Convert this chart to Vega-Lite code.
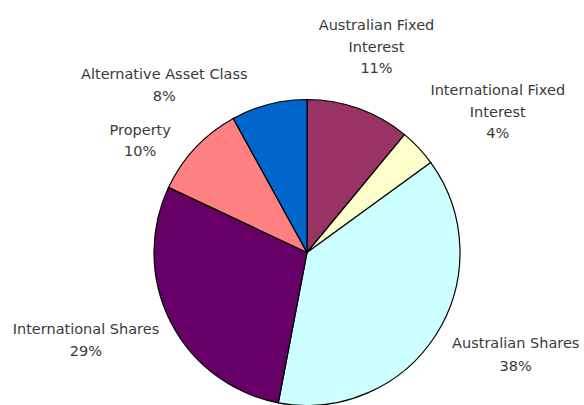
{
  "$schema": "https://vega.github.io/schema/vega-lite/v6.json",
  "width": 554,
  "height": 305,
  "padding": {"left": 30, "top": 100, "right": 0, "bottom": 0},
  "autosize": {"type": "none"},
  "background": "white",
  "config": {"view": {"stroke": null}},
  "data": {
    "values": [
      {"asset": "Australian Fixed Interest", "share": 11, "order": 1, "label": ["Australian Fixed", "Interest", "11%"]},
      {"asset": "International Fixed Interest", "share": 4, "order": 2, "label": ["International Fixed", "Interest", "4%"]},
      {"asset": "Australian Shares", "share": 38, "order": 3, "label": ["Australian Shares", "38%"]},
      {"asset": "International Shares", "share": 29, "order": 4, "label": ["International Shares", "29%"]},
      {"asset": "Property", "share": 10, "order": 5, "label": ["Property", "10%"]},
      {"asset": "Alternative Asset Class", "share": 8, "order": 6, "label": ["Alternative Asset Class", "8%"]}
    ]
  },
  "encoding": {
    "theta": {"field": "share", "type": "quantitative", "stack": true},
    "order": {"field": "order", "type": "quantitative"}
  },
  "layer": [
    {
      "mark": {"type": "arc", "outerRadius": 153, "stroke": "#000000", "strokeWidth": 1.2},
      "encoding": {
        "color": {
          "field": "asset",
          "type": "nominal",
          "scale": {
            "domain": ["Australian Fixed Interest", "International Fixed Interest", "Australian Shares", "International Shares", "Property", "Alternative Asset Class"],
            "range": ["#993366", "#FFFFCC", "#CCFFFF", "#660066", "#FF8080", "#0066CC"]
          },
          "legend": null
        }
      }
    },
    {
      "mark": {"type": "text", "radius": 217, "dx": -4, "dy": -22, "font": "DejaVu Sans", "fontSize": 14.5, "lineHeight": 21.5, "fill": "#3a3a3a", "align": "center", "baseline": "middle"},
      "encoding": {"text": {"condition": {"test": "datum.order == 1", "field": "label"}, "value": ""}}
    },
    {
      "mark": {"type": "text", "radius": 237, "dx": 18, "dy": 1, "font": "DejaVu Sans", "fontSize": 14.5, "lineHeight": 21.5, "fill": "#3a3a3a", "align": "center", "baseline": "middle"},
      "encoding": {"text": {"condition": {"test": "datum.order == 2", "field": "label"}, "value": ""}}
    },
    {
      "mark": {"type": "text", "radius": 233, "dx": 12, "dy": -33, "font": "DejaVu Sans", "fontSize": 14.5, "lineHeight": 23, "fill": "#3a3a3a", "align": "center", "baseline": "middle"},
      "encoding": {"text": {"condition": {"test": "datum.order == 3", "field": "label"}, "value": ""}}
    },
    {
      "mark": {"type": "text", "radius": 238, "dx": -9, "dy": -31, "font": "DejaVu Sans", "fontSize": 14.5, "lineHeight": 22, "fill": "#3a3a3a", "align": "center", "baseline": "middle"},
      "encoding": {"text": {"condition": {"test": "datum.order == 4", "field": "label"}, "value": ""}}
    },
    {
      "mark": {"type": "text", "radius": 200, "dx": -21, "dy": 15, "font": "DejaVu Sans", "fontSize": 14.5, "lineHeight": 21, "fill": "#3a3a3a", "align": "center", "baseline": "middle"},
      "encoding": {"text": {"condition": {"test": "datum.order == 5", "field": "label"}, "value": ""}}
    },
    {
      "mark": {"type": "text", "radius": 220, "dx": -88, "dy": 36, "font": "DejaVu Sans", "fontSize": 14.5, "lineHeight": 22, "fill": "#3a3a3a", "align": "center", "baseline": "middle"},
      "encoding": {"text": {"condition": {"test": "datum.order == 6", "field": "label"}, "value": ""}}
    }
  ]
}
